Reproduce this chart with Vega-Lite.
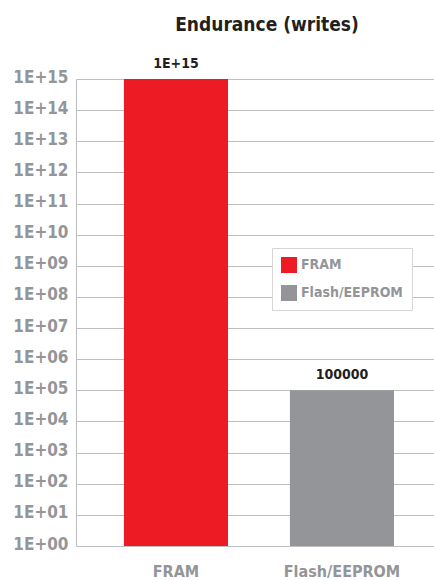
{
  "$schema": "https://vega.github.io/schema/vega-lite/v6.json",
  "width": 358,
  "height": 467,
  "autosize": {"type": "none"},
  "padding": {"left": 76, "top": 79, "right": 0, "bottom": 34},
  "background": "white",
  "title": {
    "text": "Endurance (writes)",
    "font": "DejaVu Sans Condensed, sans-serif",
    "fontSize": 19,
    "fontWeight": "bold",
    "color": "#231f20",
    "anchor": "middle",
    "frame": "group",
    "dx": 12,
    "offset": 22
  },
  "data": {
    "values": [
      {"device": "FRAM", "writes": 1e15, "label": "1E+15"},
      {"device": "Flash/EEPROM", "writes": 100000, "label": "100000"}
    ]
  },
  "encoding": {
    "x": {
      "field": "device",
      "type": "nominal",
      "sort": null,
      "scale": {"paddingInner": 0.373, "paddingOuter": 0.265, "align": 0.545},
      "axis": {
        "title": null,
        "labelAngle": 0,
        "domain": false,
        "ticks": false,
        "labelPadding": 17,
        "labelFont": "DejaVu Sans Condensed, sans-serif",
        "labelFontSize": 16,
        "labelFontWeight": "bold",
        "labelColor": "#939598"
      }
    },
    "y": {
      "field": "writes",
      "type": "quantitative",
      "scale": {"type": "log", "domain": [1, 1e15], "nice": false},
      "axis": {
        "title": null,
        "values": [1, 10, 100, 1000, 10000, 100000, 1000000, 10000000, 100000000, 1000000000, 10000000000, 100000000000, 1000000000000, 10000000000000, 100000000000000, 1000000000000000],
        "labelExpr": "'1E+' + (round(log(datum.value)/LN10) < 10 ? '0' : '') + round(log(datum.value)/LN10)",
        "grid": true,
        "gridColor": "#bcbec0",
        "gridWidth": 1,
        "domain": true,
        "domainColor": "#bcbec0",
        "ticks": false,
        "labelPadding": 8,
        "labelBaseline": "alphabetic",
        "labelOffset": 3,
        "labelFont": "DejaVu Sans Condensed, sans-serif",
        "labelFontSize": 17,
        "labelFontWeight": "bold",
        "labelColor": "#939598"
      }
    }
  },
  "layer": [
    {
      "mark": {"type": "bar"},
      "encoding": {
        "y2": {"datum": 1},
        "color": {
          "field": "device",
          "type": "nominal",
          "sort": null,
          "scale": {"domain": ["FRAM", "Flash/EEPROM"], "range": ["#ed1c24", "#939598"]},
          "legend": {
            "orient": "none",
            "legendX": 196,
            "legendY": 169,
            "title": null,
            "fillColor": "white",
            "strokeColor": "#d6d6d6",
            "padding": 9,
            "symbolType": "square",
            "symbolSize": 256,
            "symbolStrokeWidth": 0,
            "symbolOpacity": 1,
            "labelFont": "DejaVu Sans Condensed, sans-serif",
            "labelFontSize": 14,
            "labelFontWeight": "bold",
            "labelColor": "#939598",
            "labelOffset": 4,
            "rowPadding": 12
          }
        }
      }
    },
    {
      "mark": {
        "type": "text",
        "baseline": "alphabetic",
        "dy": -11,
        "font": "DejaVu Sans Condensed, sans-serif",
        "fontSize": 14,
        "fontWeight": "bold",
        "color": "#231f20"
      },
      "encoding": {
        "text": {"field": "label"}
      }
    }
  ],
  "config": {"view": {"stroke": null}}
}
